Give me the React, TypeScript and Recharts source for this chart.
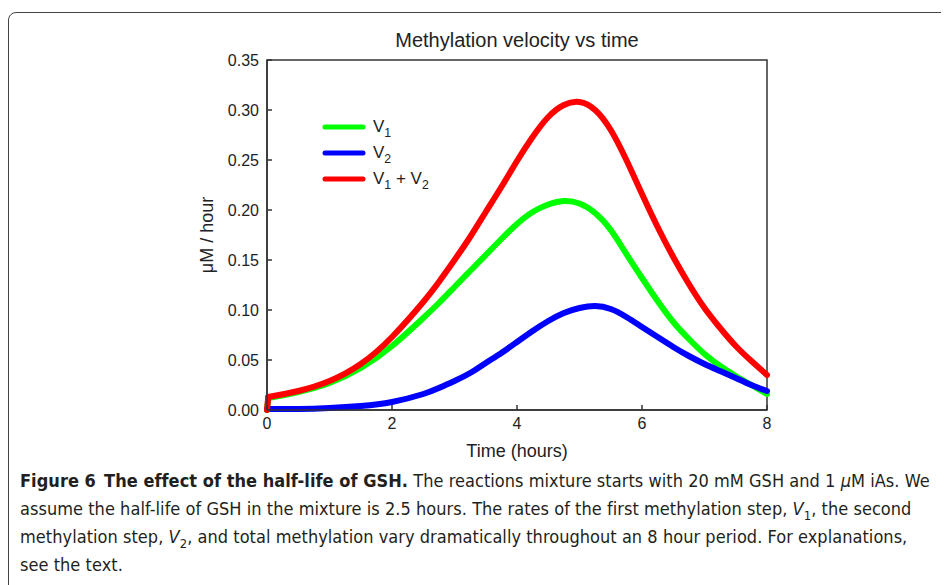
import React from 'react';
import { LineChart, Line, XAxis, YAxis, Legend, ReferenceArea } from 'recharts';

const times = [0, 0.02, 0.5, 1, 1.5, 2, 2.5, 2.75, 3, 3.25, 3.5, 3.75, 4, 4.25, 4.5, 4.75, 5, 5.25, 5.5, 5.75, 6, 6.25, 6.5, 6.75, 7, 7.25, 7.5, 7.75, 8];
const v1Values = [0, 0.012, 0.018, 0.027, 0.042, 0.064, 0.092, 0.107, 0.123, 0.139, 0.155, 0.171, 0.186, 0.198, 0.2055, 0.209, 0.2065, 0.197, 0.18, 0.156, 0.132, 0.109, 0.088, 0.071, 0.056, 0.044, 0.034, 0.025, 0.016];
const v2Values = [0.001, 0.001, 0.001, 0.002, 0.004, 0.008, 0.016, 0.022, 0.029, 0.037, 0.047, 0.057, 0.068, 0.079, 0.089, 0.097, 0.102, 0.104, 0.101, 0.093, 0.083, 0.073, 0.063, 0.054, 0.046, 0.039, 0.032, 0.025, 0.019];
const totalValues = [0, 0.013, 0.019, 0.029, 0.046, 0.073, 0.108, 0.128, 0.15, 0.173, 0.198, 0.223, 0.249, 0.273, 0.293, 0.305, 0.308, 0.3, 0.28, 0.25, 0.216, 0.183, 0.153, 0.126, 0.102, 0.082, 0.064, 0.049, 0.035];

const xTicks = [0, 2, 4, 6, 8];
const yTicks = [0, 0.05, 0.1, 0.15, 0.2, 0.25, 0.3, 0.35];

const seriesKeys = ['v1', 'v2', 'total'];
const seriesColors = ['#00ff00', '#0000ff', '#ff0000'];

// The first sample (t = 0) is the starting jump, drawn as a straight segment;
// the smooth curves start from the second sample.
const data = times.map((t, i) => ({
  t,
  v1: i === 0 ? null : v1Values[i],
  v2: i === 0 ? null : v2Values[i],
  total: i === 0 ? null : totalValues[i],
  v1Start: i <= 1 ? v1Values[i] : null,
  v2Start: i <= 1 ? v2Values[i] : null,
  totalStart: i <= 1 ? totalValues[i] : null,
}));

const FONT = "'Liberation Sans', Arial, sans-serif";
const CAP_FONT = "'DejaVu Sans Condensed', 'DejaVu Sans', sans-serif";

const Sub = ({ children }: { children: React.ReactNode }) => (
  <span style={{ fontSize: '0.72em', position: 'relative', top: '0.38em', lineHeight: 0 }}>{children}</span>
);

const legendLabels: Record<string, React.ReactNode> = {
  v1: <>V<Sub>1</Sub></>,
  v2: <>V<Sub>2</Sub></>,
  total: <>V<Sub>1</Sub> + V<Sub>2</Sub></>,
};

const renderLegend = (props: any) => {
  const payload = [...(props.payload || [])]
    .filter((e: any) => seriesKeys.includes(e.dataKey))
    .sort((a: any, b: any) => seriesKeys.indexOf(a.dataKey) - seriesKeys.indexOf(b.dataKey));
  return (
    <div style={{ fontFamily: FONT, fontSize: 17, color: '#222' }}>
      {payload.map((entry: any) => (
        <div key={entry.dataKey} style={{ display: 'flex', alignItems: 'center', height: 26 }}>
          <svg width={44} height={8} style={{ display: 'block' }}>
            <line x1={3} y1={4} x2={41} y2={4} stroke={entry.color} strokeWidth={5} strokeLinecap="round" />
          </svg>
          <span style={{ marginLeft: 7, whiteSpace: 'nowrap' }}>{legendLabels[entry.dataKey]}</span>
        </div>
      ))}
    </div>
  );
};

const YLabel = (props: any) => {
  const vb = props.viewBox || {};
  const cx = vb.x;
  const cy = vb.y + vb.height / 2;
  return (
    <text x={cx} y={cy} transform={`rotate(-90 ${cx} ${cy})`} textAnchor="middle" dominantBaseline="central" fontSize={18} fontFamily={FONT} fill="#222">
      μM / hour
    </text>
  );
};

const XLabel = (props: any) => {
  const vb = props.viewBox || {};
  const cx = vb.x + vb.width / 2;
  return (
    <text x={cx} y={vb.y + 47} textAnchor="middle" fontSize={18} fontFamily={FONT} fill="#222">
      Time (hours)
    </text>
  );
};

export default function App() {
  return (
    <div style={{ position: 'relative', width: 941, height: 577, overflow: 'hidden', background: '#fff' }}>
      <div style={{ position: 'absolute', left: 0, top: 4, width: 1100, height: 1000, border: '1.5px solid #444', borderRadius: 8, boxSizing: 'border-box' }} />
      <div style={{ position: 'absolute', left: 259, top: 22, width: 500, textAlign: 'center', fontFamily: FONT, fontSize: 20, lineHeight: '20px', color: '#222' }}>
        Methylation velocity vs time
      </div>
      <div style={{ position: 'absolute', left: 0, top: 0 }}>
        <LineChart width={941} height={470} data={data} margin={{ top: 52, right: 182, bottom: 38, left: 199 }}>
          <XAxis
            dataKey="t"
            type="number"
            domain={[0, 8]}
            ticks={xTicks}
            height={30}
            tickSize={-5}
            tickMargin={13}
            stroke="#333"
            strokeWidth={1.5}
            tick={{ fontSize: 16, fontFamily: FONT, fill: '#222' }}
            label={<XLabel />}
          />
          <YAxis
            type="number"
            domain={[0, 0.35]}
            ticks={yTicks}
            width={60}
            tickSize={-5}
            tickMargin={13}
            stroke="#333"
            strokeWidth={1.5}
            tickFormatter={(v: number) => v.toFixed(2)}
            tick={{ fontSize: 16, fontFamily: FONT, fill: '#222' }}
            label={<YLabel />}
          />
          <ReferenceArea x1={0} x2={8} y1={0} y2={0.35} fill="none" fillOpacity={0} stroke="#333" strokeWidth={1.5} />
          <Legend
            layout="vertical"
            align="center"
            verticalAlign="middle"
            content={renderLegend}
            wrapperStyle={{ left: 314, top: 106, width: 160 }}
          />
          {seriesKeys.flatMap((k, i) => [
            <Line
              key={k + 'Start'}
              dataKey={k + 'Start'}
              type="linear"
              stroke={seriesColors[i]}
              strokeWidth={6}
              strokeLinecap="round"
              dot={false}
              activeDot={false}
              legendType="none"
              isAnimationActive={false}
            />,
            <Line
              key={k}
              dataKey={k}
              type="natural"
              stroke={seriesColors[i]}
              strokeWidth={6}
              strokeLinecap="round"
              dot={false}
              activeDot={false}
              isAnimationActive={false}
            />,
          ])}
        </LineChart>
      </div>
      <div style={{ position: 'absolute', left: 12, top: 458.8, fontFamily: CAP_FONT, fontSize: 18, letterSpacing: '0.04px', lineHeight: '28px', color: '#231f20', whiteSpace: 'nowrap' }}>
        <div><b>Figure 6&ensp;The effect of the half-life of GSH.</b> The reactions mixture starts with 20 mM GSH and 1 <i>μ</i>M iAs. We</div>
        <div>assume the half-life of GSH in the mixture is 2.5 hours. The rates of the first methylation step, <i>V</i><Sub>1</Sub>, the second</div>
        <div>methylation step, <i>V</i><Sub>2</Sub>, and total methylation vary dramatically throughout an 8 hour period. For explanations,</div>
        <div>see the text.</div>
      </div>
    </div>
  );
}
